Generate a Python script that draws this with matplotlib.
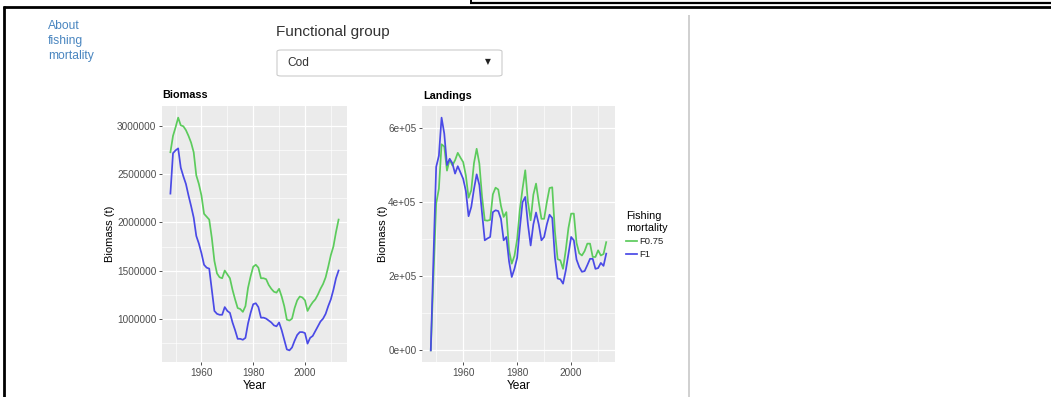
import matplotlib
matplotlib.use("Agg")
import matplotlib.pyplot as plt
from matplotlib.lines import Line2D
from matplotlib.patches import FancyBboxPatch

W, H = 1051, 397

years = list(range(1948, 2014))

# biomass (t)
biomass_f075 = [2730000, 2900000, 2990000, 3090000, 3010000, 3000000, 2960000, 2900000, 2830000, 2730000,
                2490000, 2400000, 2280000, 2090000, 2060000, 2030000, 1840000, 1600000, 1470000, 1430000,
                1420000, 1500000, 1460000, 1420000, 1300000, 1200000, 1110000, 1100000, 1070000, 1130000,
                1320000, 1440000, 1540000, 1560000, 1530000, 1420000, 1420000, 1410000, 1350000, 1310000,
                1280000, 1270000, 1310000, 1230000, 1130000, 990000, 980000, 1000000, 1110000, 1190000,
                1230000, 1220000, 1190000, 1080000, 1130000, 1170000, 1200000, 1250000, 1310000, 1360000,
                1430000, 1540000, 1660000, 1750000, 1900000, 2030000]
biomass_f1 = [2300000, 2720000, 2750000, 2770000, 2570000, 2480000, 2400000, 2280000, 2170000, 2050000,
              1860000, 1780000, 1680000, 1560000, 1530000, 1520000, 1300000, 1080000, 1050000, 1040000,
              1040000, 1120000, 1080000, 1060000, 960000, 880000, 790000, 790000, 780000, 800000,
              950000, 1060000, 1150000, 1160000, 1120000, 1010000, 1010000, 1000000, 980000, 960000,
              930000, 920000, 960000, 880000, 780000, 680000, 670000, 700000, 770000, 830000,
              860000, 860000, 850000, 740000, 800000, 820000, 870000, 920000, 970000, 1000000,
              1050000, 1130000, 1200000, 1300000, 1420000, 1500000]

# landings
landings_f075 = [0, 200000, 396000, 436000, 556000, 550000, 485000, 515000, 499000, 513000,
                 533000, 520000, 508000, 472000, 412000, 432000, 505000, 544000, 504000, 414000,
                 351000, 350000, 352000, 421000, 439000, 434000, 390000, 360000, 373000, 270000,
                 234000, 255000, 300000, 380000, 436000, 486000, 400000, 351000, 420000, 450000,
                 400000, 355000, 355000, 400000, 438000, 440000, 320000, 246000, 243000, 220000,
                 270000, 330000, 369000, 369000, 290000, 262000, 256000, 268000, 288000, 288000,
                 252000, 252000, 270000, 256000, 260000, 292000]
landings_f1 = [0, 250000, 495000, 525000, 628000, 585000, 500000, 517000, 505000, 477000,
               497000, 480000, 463000, 430000, 362000, 387000, 435000, 475000, 446000, 370000,
               297000, 302000, 306000, 373000, 378000, 376000, 355000, 297000, 306000, 240000,
               198000, 220000, 250000, 330000, 400000, 414000, 340000, 283000, 340000, 372000,
               340000, 297000, 306000, 340000, 366000, 357000, 250000, 194000, 192000, 180000,
               215000, 260000, 306000, 297000, 245000, 225000, 212000, 214000, 230000, 247000,
               247000, 220000, 222000, 236000, 228000, 261000]

x_ticks = [1960, 1980, 2000]
x_minor = [1950, 1970, 1990, 2010]
bio_ticks = [1000000, 1500000, 2000000, 2500000, 3000000]
bio_minor = [750000, 1250000, 1750000, 2250000, 2750000]
bio_labels = ["1000000", "1500000", "2000000", "2500000", "3000000"]
land_ticks = [0, 200000, 400000, 600000]
land_minor = [100000, 300000, 500000]
land_labels = ["0e+00", "2e+05", "4e+05", "6e+05"]

series_names = ["F0.75", "F1"]
colors = ["#5ccb5c", "#4a4ae6"]

plt.rcParams["font.family"] = ["Liberation Sans", "DejaVu Sans"]


def fx(px):
    return px / W


def fy(py):
    return 1 - py / H


fig = plt.figure(figsize=(W / 100, H / 100), dpi=100)
fig.patch.set_facecolor("white")


def style_axes(ax, yt, ym, yl):
    ax.set_facecolor("#ebebeb")
    for s in ax.spines.values():
        s.set_visible(False)
    ax.set_xticks(x_ticks)
    ax.set_xticks(x_minor, minor=True)
    ax.set_yticks(yt)
    ax.set_yticklabels(yl)
    ax.set_yticks(ym, minor=True)
    ax.grid(which="major", color="white", lw=0.9)
    ax.grid(which="minor", color="white", lw=0.45)
    ax.set_axisbelow(True)
    ax.tick_params(which="major", length=2.5, width=0.6, color="#333333",
                   labelsize=7.2, labelcolor="#4d4d4d", pad=1.5)
    ax.tick_params(which="minor", length=0)
    ax.margins(x=0.05, y=0.05)


# Biomass panel
ax1 = fig.add_axes([fx(162), fy(362), fx(347) - fx(162), fy(106) - fy(362)])
for vals, c, n in zip([biomass_f075, biomass_f1], colors, series_names):
    ax1.plot(years, vals, color=c, lw=1.25, label=n)
style_axes(ax1, bio_ticks, bio_minor, bio_labels)
ax1.set_ylabel("Biomass (t)", fontsize=8, color="black")
ax1.yaxis.set_label_coords((115 - 162) / 185, 0.5)
ax1.set_xlabel("Year", fontsize=8.6, color="black", va="top")
ax1.xaxis.set_label_coords(0.5, -0.07)

# Landings panel
ax2 = fig.add_axes([fx(422), fy(362), fx(615) - fx(422), fy(106) - fy(362)])
for vals, c, n in zip([landings_f075, landings_f1], colors, series_names):
    ax2.plot(years, vals, color=c, lw=1.25, label=n)
style_axes(ax2, land_ticks, land_minor, land_labels)
ax2.set_ylabel("Biomass (t)", fontsize=8, color="black")
ax2.yaxis.set_label_coords((388 - 422) / 193, 0.5)
ax2.set_xlabel("Year", fontsize=8.6, color="black", va="top")
ax2.xaxis.set_label_coords(0.5, -0.07)

# panel titles
fig.text(fx(162), fy(95.5), "Biomass", fontsize=7.8, fontweight="bold", va="center", ha="left")
fig.text(fx(423), fy(96), "Landings", fontsize=7.8, fontweight="bold", va="center", ha="left")

# legend
handles, labels = ax2.get_legend_handles_labels()
leg = fig.legend(handles, labels, title="Fishing\nmortality", loc="upper left",
                 bbox_to_anchor=(fx(620.5), fy(205.5)), frameon=False, fontsize=6.8,
                 title_fontsize=7.8, handlelength=1.1, handletextpad=0.3,
                 labelspacing=0.45, borderpad=0.1, alignment="left")
for t in leg.get_texts():
    t.set_color("#222222")

# page elements around the plots
fig.text(fx(48), fy(26), "About", fontsize=8.7, color="#4a86c0", va="center", ha="left")
fig.text(fx(48), fy(41), "fishing", fontsize=8.7, color="#4a86c0", va="center", ha="left")
fig.text(fx(48), fy(56), "mortality", fontsize=8.7, color="#4a86c0", va="center", ha="left")
fig.text(fx(276), fy(32), "Functional group", fontsize=11, color="#333333", va="center", ha="left")

box = FancyBboxPatch((fx(277), fy(76)), fx(502) - fx(277), fy(50) - fy(76),
                     boxstyle="round,pad=0,rounding_size=0.004", transform=fig.transFigure,
                     facecolor="white", edgecolor="#cccccc", lw=0.8)
fig.add_artist(box)
fig.text(fx(287), fy(63), "Cod", fontsize=8.6, color="#333333", va="center", ha="left")
fig.text(fx(488), fy(62), "\u25bc", fontsize=5.5, color="#222222", va="center", ha="center",
         family=["DejaVu Sans"])

# frame lines
def hline(x0, x1, y, lw, color="black"):
    fig.add_artist(Line2D([fx(x0), fx(x1)], [fy(y), fy(y)], transform=fig.transFigure,
                          color=color, lw=lw, solid_capstyle="butt"))


def vline(x, y0, y1, lw, color="black"):
    fig.add_artist(Line2D([fx(x), fx(x)], [fy(y0), fy(y1)], transform=fig.transFigure,
                          color=color, lw=lw, solid_capstyle="butt"))


hline(470, W, 3, 1.6)
vline(470.5, 0, 3.5, 1.4)
hline(2.5, W, 6.5, 2.0)
vline(3.5, 5.5, H, 2.0)
vline(689, 15, H, 1.2, color="#c8c8c8")

fig.savefig("out.png", dpi=100, facecolor="white")
